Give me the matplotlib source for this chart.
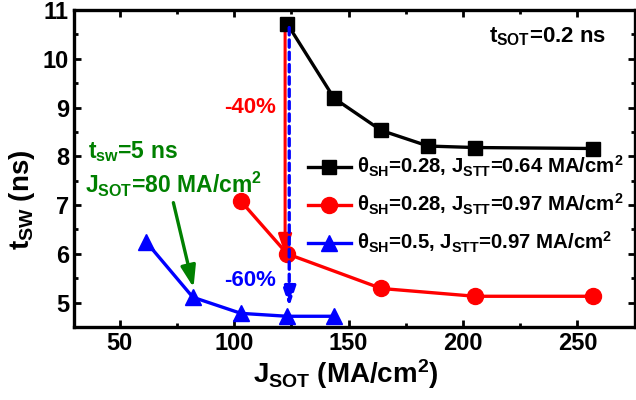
import matplotlib
matplotlib.use("Agg")
import matplotlib.pyplot as plt
from matplotlib.ticker import MultipleLocator

plt.rcParams['font.family'] = ['Liberation Sans', 'DejaVu Sans']
plt.rcParams['font.weight'] = 'bold'
plt.rcParams['axes.labelweight'] = 'bold'
plt.rcParams['mathtext.fontset'] = 'custom'
plt.rcParams['mathtext.rm'] = 'Liberation Sans:bold'
plt.rcParams['mathtext.it'] = 'Liberation Sans:bold'
plt.rcParams['mathtext.bf'] = 'Liberation Sans:bold'

# Data
black_x = [123.2, 143.7, 164.3, 184.8, 205.3, 256.7]
black_y = [10.72, 9.19, 8.53, 8.21, 8.18, 8.16]
red_x = [103.0, 123.2, 164.3, 205.3, 256.7]
red_y = [7.08, 6.00, 5.29, 5.13, 5.13]
blue_x = [61.7, 82.0, 103.0, 123.2, 143.7]
blue_y = [6.24, 5.11, 4.78, 4.72, 4.72]

labels = [r'$θ_{SH}$=0.28, $J_{STT}$=0.64 MA/cm$^2$',
          r'$θ_{SH}$=0.28, $J_{STT}$=0.97 MA/cm$^2$',
          r'$θ_{SH}$=0.5, $J_{STT}$=0.97 MA/cm$^2$']

fig = plt.figure(figsize=(6.36, 4.0), dpi=100)
ax = fig.add_axes([0.116, 0.1825, 0.882, 0.7925])

ax.plot(black_x, black_y, '-s', color='black', lw=2.4, ms=10.5, label=labels[0], zorder=3)
ax.plot(red_x, red_y, '-o', color='red', lw=2.4, ms=11.5, label=labels[1], zorder=3)
ax.plot(blue_x, blue_y, '-^', color='blue', lw=2.4, ms=11.5, label=labels[2], zorder=3)

# arrows
ax.annotate('', xy=(red_x[1] - 0.9, red_y[1] - 0.02), xytext=(black_x[0] - 0.9, black_y[0] - 0.08),
            arrowprops=dict(arrowstyle='-|>,head_length=1.2,head_width=0.4', color='red', lw=2.2,
                            shrinkA=0, shrinkB=0), zorder=2)
ax.annotate('', xy=(blue_x[3] + 0.9, blue_y[3] + 0.2), xytext=(black_x[0] + 0.9, black_y[0] - 0.08),
            arrowprops=dict(arrowstyle='-|>,head_length=1.2,head_width=0.4', color='blue', lw=2.4,
                            ls=(0, (2.2, 1.5)), shrinkA=0, shrinkB=0), zorder=4)
ax.annotate('', xy=(blue_x[1] + 0.3, blue_y[1] + 0.2), xytext=(73.5, 7.05),
            arrowprops=dict(arrowstyle='-|>,head_length=1.3,head_width=0.45', color='green', lw=2.4,
                            shrinkA=0, shrinkB=0), zorder=4)

ax.text(107, 9.0, '-40%', color='red', fontsize=16, ha='center', va='center')
ax.text(107, 5.45, '-60%', color='blue', fontsize=16, ha='center', va='center')
ax.text(36, 8.09, r'$t_{sw}$=5 ns', color='green', fontsize=16.5, ha='left', va='center')
ax.text(35, 7.42, r'$J_{SOT}$=80 MA/cm$^2$', color='green', fontsize=16.5, ha='left', va='center')
ax.text(262.5, 10.45, r'$t_{SOT}$=0.2 ns', color='black', fontsize=16, ha='right', va='center')

ax.set_xlim(30, 275)
ax.set_ylim(4.5, 11)
ax.xaxis.set_major_locator(MultipleLocator(50))
ax.xaxis.set_minor_locator(MultipleLocator(25))
ax.yaxis.set_major_locator(MultipleLocator(1))
ax.yaxis.set_minor_locator(MultipleLocator(0.5))
ax.tick_params(which='both', direction='in', top=True, right=True, width=2, labelsize=17)
ax.tick_params(which='major', length=5)
ax.tick_params(which='minor', length=3)
for s in ax.spines.values():
    s.set_linewidth(2.4)

ax.set_xlabel(r'$J_{SOT}$ (MA/cm$^2$)', fontsize=20, labelpad=2, x=0.485)
ax.set_ylabel(r'$t_{SW}$ (ns)', fontsize=20, labelpad=4, y=0.40)

ax.legend(loc='upper left', bbox_to_anchor=(0.392, 0.59), frameon=False, fontsize=14.7,
          handlelength=2.1, handletextpad=0.3, labelspacing=0.62, borderpad=0.2)

fig.savefig('out.png', dpi=100)
